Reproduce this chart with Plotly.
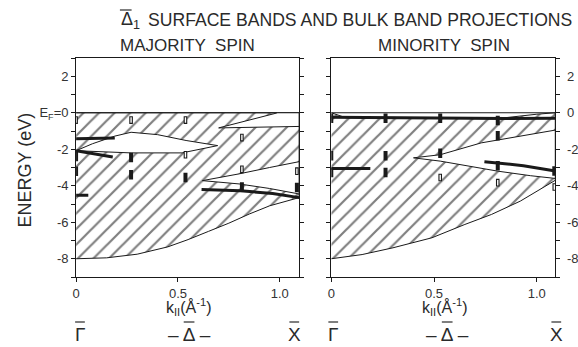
import plotly.graph_objects as go

# ---------------- majority spin (left panel) ----------------
maj_bottom_k = [0.0, 0.15, 0.30, 0.45, 0.55, 0.65, 0.75, 0.85, 0.95, 1.095]
maj_bottom_E = [-8.0, -7.95, -7.75, -7.35, -6.95, -6.5, -6.05, -5.55, -5.1, -4.65]

# lens-shaped gap near -2 eV
maj_lens_up_k = [0.0, 0.08, 0.19, 0.27, 0.40, 0.54, 0.695]
maj_lens_up_E = [-2.08, -1.7, -1.28, -1.07, -1.2, -1.52, -1.8]
maj_lens_lo_k = [0.0, 0.27, 0.52, 0.695]
maj_lens_lo_E = [-2.08, -2.2, -2.2, -1.8]

# upper-right gap below E_F
maj_gap2_up_k = [0.70, 0.80, 0.90, 0.99, 1.095]
maj_gap2_up_E = [-0.83, -0.55, -0.27, 0.0, 0.0]
maj_gap2_lo_k = [0.70, 1.095]
maj_gap2_lo_E = [-0.83, -0.75]

# lower-right gap
maj_gap3_up_k = [0.62, 0.80, 0.95, 1.095]
maj_gap3_up_E = [-3.72, -3.35, -3.0, -2.68]
maj_gap3_lo_k = [0.62, 0.80, 0.95, 1.095]
maj_gap3_lo_E = [-3.72, -3.9, -4.15, -4.45]

# surface bands (heavy lines)
maj_bands = [
    ([0.0, 0.19], [-1.42, -1.38]),
    ([0.0, 0.18], [-2.08, -2.42]),
    ([0.0, 0.06], [-4.52, -4.52]),
    ([0.616, 0.806, 0.965, 1.095], [-4.2, -4.28, -4.42, -4.65]),
]

# photoemission peaks: filled and open
maj_fill_k = [0.0, 0.0, 0.27, 0.27, 0.537, 0.814, 1.084]
maj_fill_E = [-2.4, -3.2, -2.45, -3.4, -3.55, -4.07, -4.1]
maj_open_k = [0.0, 0.27, 0.537, 0.537, 0.814, 0.814, 1.084]
maj_open_E = [-0.4, -0.4, -0.4, -2.3, -1.36, -3.1, -3.2]

# ---------------- minority spin (right panel) ----------------
min_top_k = [0.0, 0.07, 0.50, 0.80, 1.0, 1.09]
min_top_E = [0.0, -0.27, -0.3, -0.33, -0.08, 0.0]
min_bottom_k = [0.0, 0.15, 0.30, 0.49, 0.65, 0.78, 0.92, 1.0, 1.09]
min_bottom_E = [-8.0, -7.77, -7.4, -6.85, -6.12, -5.57, -4.84, -4.3, -3.7]

min_gap_up_k = [0.40, 0.53, 0.73, 0.97, 1.09]
min_gap_up_E = [-2.47, -2.3, -1.65, -1.17, -0.95]
min_gap_lo_k = [0.40, 0.53, 0.65, 0.81, 0.97, 1.09]
min_gap_lo_E = [-2.47, -2.65, -2.9, -3.2, -3.45, -3.6]

min_bands = [
    ([0.0, 0.3, 0.6, 0.85, 1.09], [-0.25, -0.28, -0.3, -0.32, -0.3]),
    ([0.0, 0.19], [-3.05, -3.05]),
    ([0.745, 0.935, 1.09], [-2.68, -2.9, -3.19]),
]

min_fill_k = [0.0, 0.0, 0.0, 0.264, 0.264, 0.264, 0.53, 0.53, 0.81, 0.81, 0.81, 1.085]
min_fill_E = [-0.3, -2.36, -3.28, -0.3, -2.36, -3.28, -0.3, -2.22, -0.42, -1.26, -2.91, -3.19]
min_open_k = [0.53, 0.81, 1.085]
min_open_E = [-3.55, -3.83, -4.07]

K_MAX_L = 1.095
K_MAX_R = 1.09
INK = "#1a1a1a"
W, H = 578, 347

hatch = dict(shape="/", fgcolor="#000", bgcolor="white", size=11, solidity=0.2)

fig = go.Figure()


def add_panel(xa, ya, top_k, top_E, bot_k, bot_E, gaps, bands,
              fk, fE, ok, oE):
    # hatched bulk projection
    poly_k = list(top_k) + list(reversed(bot_k))
    poly_E = list(top_E) + list(reversed(bot_E))
    fig.add_trace(go.Scatter(
        x=poly_k, y=poly_E, xaxis=xa, yaxis=ya, mode="lines",
        fill="toself", fillcolor="white", fillpattern=hatch,
        line=dict(color=INK, width=1), hoverinfo="skip", showlegend=False))
    # E_F line
    fig.add_trace(go.Scatter(
        x=[0, top_k[-1]], y=[0, 0], xaxis=xa, yaxis=ya, mode="lines",
        line=dict(color=INK, width=1), hoverinfo="skip", showlegend=False))
    # gaps (unhatched)
    for uk, uE, lk, lE in gaps:
        gk = list(uk) + list(reversed(lk))
        gE = list(uE) + list(reversed(lE))
        fig.add_trace(go.Scatter(
            x=gk, y=gE, xaxis=xa, yaxis=ya, mode="lines",
            fill="toself", fillcolor="white",
            line=dict(color=INK, width=1), hoverinfo="skip", showlegend=False))
    # surface bands
    for bk, bE in bands:
        fig.add_trace(go.Scatter(
            x=bk, y=bE, xaxis=xa, yaxis=ya, mode="lines",
            line=dict(color=INK, width=3), hoverinfo="skip", showlegend=False))
    # filled peaks
    fig.add_trace(go.Scatter(
        x=fk, y=fE, xaxis=xa, yaxis=ya, mode="markers",
        marker=dict(size=1, color="rgba(0,0,0,0)"),
        error_y=dict(type="constant", value=0.26, thickness=4, width=0, color=INK),
        hoverinfo="skip", showlegend=False))
    # open peaks: dark outline, white core
    fig.add_trace(go.Scatter(
        x=ok, y=oE, xaxis=xa, yaxis=ya, mode="markers",
        marker=dict(size=1, color="rgba(0,0,0,0)"),
        error_y=dict(type="constant", value=0.21, thickness=3.6, width=0, color=INK),
        hoverinfo="skip", showlegend=False))
    fig.add_trace(go.Scatter(
        x=ok, y=oE, xaxis=xa, yaxis=ya, mode="markers",
        marker=dict(size=1, color="rgba(0,0,0,0)"),
        error_y=dict(type="constant", value=0.15, thickness=1.4, width=0, color="white"),
        hoverinfo="skip", showlegend=False))


add_panel("x", "y", [0.0, K_MAX_L], [0.0, 0.0], maj_bottom_k, maj_bottom_E,
          [(maj_lens_up_k, maj_lens_up_E, maj_lens_lo_k, maj_lens_lo_E),
           (maj_gap2_up_k, maj_gap2_up_E, maj_gap2_lo_k, maj_gap2_lo_E),
           (maj_gap3_up_k, maj_gap3_up_E, maj_gap3_lo_k, maj_gap3_lo_E)],
          maj_bands, maj_fill_k, maj_fill_E, maj_open_k, maj_open_E)

add_panel("x2", "y2", min_top_k, min_top_E, min_bottom_k, min_bottom_E,
          [(min_gap_up_k, min_gap_up_E, min_gap_lo_k, min_gap_lo_E)],
          min_bands, min_fill_k, min_fill_E, min_open_k, min_open_E)

tick_font = dict(family="Liberation Sans", size=13, color="#333")
k_ticks = [0, 0.5, 1.0]
k_text = ["0", "0.5", "1.0"]
e_ticks = [-8, -6, -4, -2, 0, 2]
e_text_left = ["-8", "-6", "-4", "-2", "E<sub>F</sub>=0", "2"]
e_text_right = ["-8", "-6", "-4", "-2", "0", "2"]

xcommon = dict(tickvals=k_ticks, ticktext=k_text, ticks="outside", ticklen=4,
               tickcolor=INK, showline=True, linecolor=INK, linewidth=1,
               mirror=True, showgrid=False, zeroline=False, tickfont=tick_font)
ycommon = dict(range=[-9, 3], tickvals=e_ticks, ticks="outside", ticklen=4,
               tickcolor=INK, showline=True, linecolor=INK, linewidth=1,
               mirror="allticks", showgrid=False, zeroline=False,
               tickfont=tick_font,
               minor=dict(dtick=1, tick0=0, ticks="outside", ticklen=4,
                          tickcolor=INK, showgrid=False))

fig.update_layout(
    width=W, height=H, margin=dict(l=0, r=0, t=0, b=0),
    paper_bgcolor="white", plot_bgcolor="white",
    xaxis=dict(xcommon, domain=[74 / W, 303 / W], range=[0, K_MAX_L], anchor="y"),
    yaxis=dict(ycommon, domain=[70 / H, 289 / H], ticktext=e_text_left,
               anchor="x", side="left"),
    xaxis2=dict(xcommon, domain=[336 / W, 566 / W], range=[0, K_MAX_R], anchor="y2"),
    yaxis2=dict(ycommon, domain=[70 / H, 289 / H], ticktext=e_text_right,
                anchor="x2", side="right", ticklabelstandoff=4),
)

txt = dict(family="Liberation Sans", color="#2a2a2a")


def ann(x, y, text, size, xanchor="center", **kw):
    fig.add_annotation(x=x / W, y=1 - y / H, xref="paper", yref="paper",
                       text=text, showarrow=False, xanchor=xanchor,
                       yanchor="middle", font=dict(txt, size=size), **kw)


def overbar(cx, y, width):
    fig.add_shape(type="line", xref="paper", yref="paper",
                  x0=(cx - width / 2) / W, x1=(cx + width / 2) / W,
                  y0=1 - y / H, y1=1 - y / H,
                  line=dict(color="#2a2a2a", width=1.2))


# title
ann(118, 21, "\u0394<sub>1</sub>", 18, xanchor="left")
overbar(125, 10, 12)
ann(146, 20, "SURFACE BANDS AND BULK BAND PROJECTIONS", 17.6, xanchor="left")
ann(188, 45, "MAJORITY  SPIN", 17)
ann(452, 45, "MINORITY  SPIN", 17)
ann(22, 170, "ENERGY (eV)", 18, textangle=-90)
ann(190, 307, "k<sub>II</sub>(\u00c5<sup>-1</sup>)", 16)
ann(453, 307, "k<sub>II</sub>(\u00c5<sup>-1</sup>)", 16)

# symmetry points along the surface Brillouin zone
for gx, dx, xx in [(78, 190, 298), (338, 455, 567)]:
    ann(gx, 334, "\u0393", 19)
    overbar(gx, 322, 10)
    ann(dx, 334, "\u2013 \u0394 \u2013", 19)
    overbar(dx, 322, 11)
    ann(xx, 334, "X", 19)
    overbar(xx, 322, 10)

fig.write_html("out.html")
